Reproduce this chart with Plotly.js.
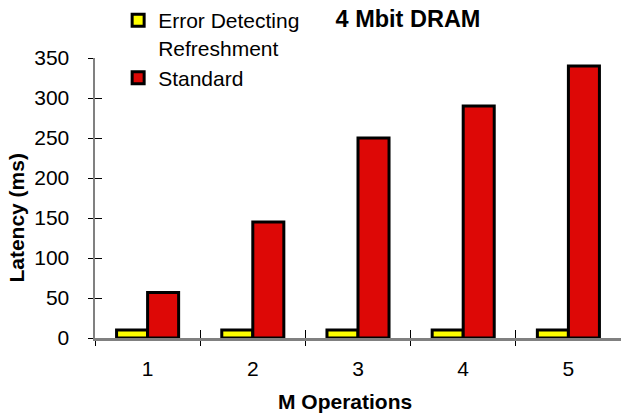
<!DOCTYPE html>
<html>
<head>
<meta charset="utf-8">
<script src="https://cdn.plot.ly/plotly-3.0.1.min.js"></script>
<style>html,body{margin:0;padding:0;background:#fff;}#chart{width:621px;height:413px;}</style>
</head>
<body>
<div id="chart"></div>
<script>
const categories = [1, 2, 3, 4, 5];
const tickLabels = ['1', '2', '3', '4', '5'];
const errorDetecting = [10, 10, 10, 10, 10];
const standard = [57, 145, 250, 290, 340];
const seriesNames = ['Error Detecting<br>Refreshment', 'Standard'];
const boundaries = [1.5, 2.5, 3.5, 4.5];
const yTicks = [0, 50, 100, 150, 200, 250, 300, 350];

const FONT = 'Liberation Sans, Arial, Helvetica, sans-serif';

const traces = [
  {
    type: 'bar', name: seriesNames[0], x: categories, y: errorDetecting,
    marker: {color: '#FFFF00', line: {color: '#000000', width: 3}}
  },
  {
    type: 'bar', name: seriesNames[1], x: categories, y: standard,
    marker: {color: '#DD0806', line: {color: '#000000', width: 3}}
  },
  {
    type: 'scatter', mode: 'markers', x: [], y: [], xaxis: 'x2', yaxis: 'y2',
    showlegend: false, hoverinfo: 'skip'
  }
];

const layout = {
  width: 621, height: 413,
  margin: {l: 95, r: 0, t: 58, b: 75, pad: 0},
  paper_bgcolor: '#ffffff', plot_bgcolor: '#ffffff',
  font: {family: FONT, size: 21, color: '#000000'},
  barmode: 'group', bargap: 0.41, bargroupgap: 0,
  showlegend: true,
  title: {
    text: '4 Mbit DRAM', xref: 'container', yref: 'container',
    x: 0.657, xanchor: 'center', y: 0.954, yanchor: 'middle',
    font: {family: FONT, size: 23.5, weight: 'bold', color: '#000'}
  },
  legend: {
    x: 0.044, xanchor: 'left', y: 1.207, yanchor: 'top',
    bgcolor: 'rgba(0,0,0,0)', borderwidth: 0, valign: 'top',
    font: {family: FONT, size: 21, color: '#000'},
    tracegroupgap: 0
  },
  xaxis: {
    range: [0.5, 5.5], tickmode: 'array', tickvals: categories, ticktext: tickLabels,
    ticks: '', showgrid: false, zeroline: false,
    showline: true, linecolor: '#808080', linewidth: 2.5,
    ticklabelstandoff: 10,
    minor: {tickmode: 'array', tickvals: [0.5].concat(boundaries), ticks: 'outside', ticklen: 5, tickwidth: 1, tickcolor: '#000', showgrid: false},
    tickfont: {family: FONT, size: 21}
  },
  yaxis: {
    range: [0, 350], tickmode: 'array', tickvals: yTicks,
    ticks: 'outside', ticklen: 5, tickwidth: 1, tickcolor: '#000',
    showgrid: false, zeroline: false,
    showline: true, linecolor: '#808080', linewidth: 2.5,
    ticklabelstandoff: 14,
    tickfont: {family: FONT, size: 21}
  },
  xaxis2: {
    overlaying: 'x', anchor: 'y', range: [0.5, 5.5], tickmode: 'array', tickvals: boundaries,
    ticks: 'inside', ticklen: 8, tickwidth: 1, tickcolor: '#000',
    showticklabels: false, showgrid: false, zeroline: false, showline: false
  },
  yaxis2: {
    overlaying: 'y', anchor: 'x', side: 'left', range: [0, 350], tickmode: 'array', tickvals: yTicks,
    ticks: 'inside', ticklen: 7, tickwidth: 1, tickcolor: '#000',
    showticklabels: false, showgrid: false, zeroline: false, showline: false
  },
  annotations: [
    {
      text: 'Latency (ms)', xref: 'paper', yref: 'paper', x: -0.149, y: 0.4286,
      xanchor: 'center', yanchor: 'middle', textangle: -90, showarrow: false,
      font: {family: FONT, size: 21, weight: 'bold', color: '#000'}
    },
    {
      text: 'M Operations', xref: 'paper', yref: 'paper', x: 0.475, y: -0.225,
      xanchor: 'center', yanchor: 'middle', showarrow: false,
      font: {family: FONT, size: 21, weight: 'bold', color: '#000'}
    }
  ]
};

Plotly.newPlot('chart', traces, layout, {displayModeBar: false, staticPlot: true});
</script>
</body>
</html>
